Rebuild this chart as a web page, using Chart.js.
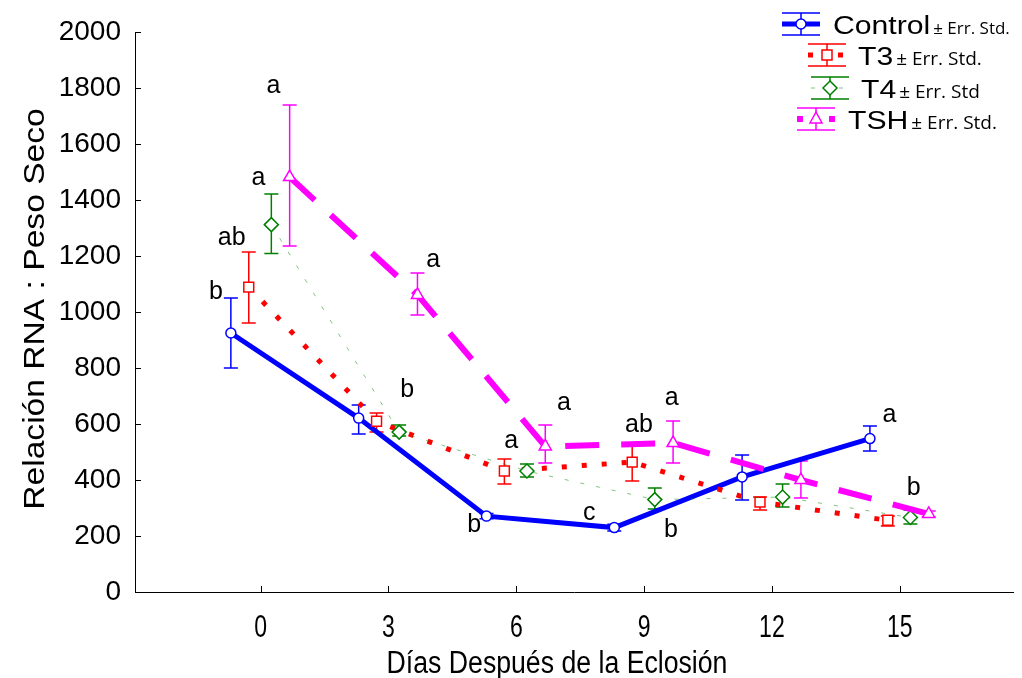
<!DOCTYPE html>
<html>
<head>
<meta charset="utf-8">
<script src="https://cdn.jsdelivr.net/npm/chart.js@4/dist/chart.umd.min.js"></script>
<style>
  body { margin: 0; background: #fff; }
  #wrap { width: 1022px; height: 678px; }
</style>
</head>
<body>
<div id="wrap"><canvas id="rna-chart" width="1022" height="678"></canvas></div>
<script>
/* Data */
let days = [0, 3, 6, 9, 12, 15]

let controlMean = [925, 621, 271, 230, 411, 548]
let controlLow  = [800, 564, 262, 218, 329, 504]
let controlHigh = [1050, 668, 280, 242, 489, 593]

let t3Mean = [1089, 610, 432, 464, 321, 256]
let t3Low  = [961, 571, 386, 396, 293, 236]
let t3High = [1214, 639, 475, 532, 339, 271]

let t4Mean = [1312, 571, 432, 330, 339, 266]
let t4Low  = [1209, 557, 411, 296, 304, 243]
let t4High = [1421, 596, 457, 371, 386, 293]

let tshMean = [1482, 1061, 520, 532, 400, 279]
let tshLow  = [1236, 989, 461, 461, 336, 269]
let tshHigh = [1739, 1139, 596, 611, 468, 289]

// significance letters (text, day position, value position)
let letterText = ['a', 'a', 'ab', 'b', 'a', 'b', 'a', 'a', 'b', 'c', 'ab', 'a', 'b', 'a', 'b']
let letterDay  = [0.3, -0.05, -0.68, -1.05, 4.05, 3.44, 7.12, 5.88, 5.01, 7.71, 8.88, 9.65, 9.63, 14.76, 15.33]
let letterVal  = [1807, 1479, 1264, 1071, 1186, 721, 675, 539, 239, 282, 596, 693, 221, 632, 371]

let seriesNames = ['Control', 'T3', 'T4', 'TSH']
let seriesSuffix = ['\u00b1 Err. Std.', '\u00b1 Err. Std.', '\u00b1 Err. Std', '\u00b1 Err. Std.']

let xTitle = 'Días Después de la Eclosión'
let yTitle = 'Relación RNA : Peso Seco'

// small sideways shift of each group so error bars don't overlap
let dodge = [-0.7, -0.28, 0.25, 0.68]

function makePoints(mean, shift) {
    return days.map(function(d, i) { return { x: d + shift, y: mean[i] } })
}

let styles = [
    { color: '#0000ff', width: 5, dash: [], point: 'circle', radius: 5 },
    { color: '#ff0000', width: 5, dash: [5, 15], point: 'rect', radius: 7 },
    { color: 'rgba(0,140,0,0.5)', width: 1, dash: [4, 12], point: 'rectRot', radius: 7, markColor: '#008000' },
    { color: '#ff00ff', width: 6, dash: [34, 22], point: 'triangle', radius: 7 }
]

let means = [controlMean, t3Mean, t4Mean, tshMean]
let lows = [controlLow, t3Low, t4Low, tshLow]
let highs = [controlHigh, t3High, t4High, tshHigh]

let datasets = means.map(function(m, k) {
    let s = styles[k]
    return {
        label: seriesNames[k],
        data: makePoints(m, dodge[k]),
        showLine: true,
        borderColor: s.color,
        borderWidth: s.width,
        borderDash: s.dash,
        pointStyle: s.point,
        pointRadius: s.radius,
        pointBorderColor: s.markColor || s.color,
        pointBackgroundColor: '#fff',
        pointBorderWidth: 1.5,
        tension: 0
    }
})

// text squeezed or stretched along its own direction, like the original export
function stretchedText(ctx, text, x, y, font, sx, align) {
    ctx.save()
    ctx.translate(x, y)
    ctx.scale(sx, 1)
    ctx.font = font
    ctx.textAlign = align || 'center'
    ctx.fillText(text, 0, 0)
    ctx.restore()
}

let extras = {
    id: 'extras',
    beforeDatasetsDraw: function(chart) {
        // error bars through the chart's scales
        let ctx = chart.ctx
        let xs = chart.scales.x, ys = chart.scales.y
        ctx.save()
        ctx.lineWidth = 1.5
        ctx.setLineDash([])
        for (let k = 0; k < 4; k++) {
            ctx.strokeStyle = styles[k].markColor || styles[k].color
            for (let i = 0; i < days.length; i++) {
                let px = xs.getPixelForValue(days[i] + dodge[k])
                let lo = ys.getPixelForValue(lows[k][i])
                let hi = ys.getPixelForValue(highs[k][i])
                ctx.beginPath()
                ctx.moveTo(px, lo); ctx.lineTo(px, hi)
                ctx.moveTo(px - 7, lo); ctx.lineTo(px + 7, lo)
                ctx.moveTo(px - 7, hi); ctx.lineTo(px + 7, hi)
                ctx.stroke()
            }
        }
        ctx.restore()
    },
    afterDraw: function(chart) {
        let ctx = chart.ctx
        let xs = chart.scales.x, ys = chart.scales.y
        let area = chart.chartArea
        ctx.save()
        // inward tick marks
        ctx.strokeStyle = '#000'
        ctx.lineWidth = 1
        ctx.setLineDash([])
        ctx.beginPath()
        xs.ticks.forEach(function(t) {
            let px = Math.round(xs.getPixelForValue(t.value)) + 0.5
            ctx.moveTo(px, area.bottom); ctx.lineTo(px, area.bottom - 6)
        })
        ys.ticks.forEach(function(t) {
            let py = Math.round(ys.getPixelForValue(t.value)) + 0.5
            ctx.moveTo(area.left, py); ctx.lineTo(area.left + 6, py)
        })
        ctx.stroke()

        ctx.fillStyle = '#000'
        ctx.textBaseline = 'alphabetic'
        // x tick labels, narrow face
        xs.ticks.forEach(function(t) {
            stretchedText(ctx, String(t.value), xs.getPixelForValue(t.value), area.bottom + 45,
                '32px "Liberation Sans", Arial, sans-serif', 0.72)
        })
        // axis titles
        stretchedText(ctx, xTitle, 557, 673, '31px "Liberation Sans", Arial, sans-serif', 0.86)
        ctx.save()
        ctx.translate(44, 309)
        ctx.rotate(-Math.PI / 2)
        stretchedText(ctx, yTitle, 0, 0, '30px "Liberation Sans", Arial, sans-serif', 1.12)
        ctx.restore()

        // letters
        ctx.font = '25px "Liberation Sans", Arial, sans-serif'
        ctx.textAlign = 'center'
        ctx.textBaseline = 'middle'
        for (let i = 0; i < letterText.length; i++) {
            ctx.fillText(letterText[i], xs.getPixelForValue(letterDay[i]), ys.getPixelForValue(letterVal[i]))
        }

        // legend
        let symLeft = [782, 808, 811, 797]
        let textLeft = [833, 858, 861, 848]
        let rowY = [24, 55, 88, 119]
        let suffixSize = [17, 19, 19, 19]
        for (let k = 0; k < 4; k++) {
            let s = styles[k]
            let x0 = symLeft[k], x1 = x0 + 38, cx = (x0 + x1) / 2, y = rowY[k]
            let mc = s.markColor || s.color
            ctx.strokeStyle = s.color
            ctx.lineWidth = s.width
            ctx.setLineDash(s.dash.length ? [Math.min(s.dash[0], 6), 10] : [])
            ctx.beginPath(); ctx.moveTo(x0, y); ctx.lineTo(x1, y); ctx.stroke()
            ctx.setLineDash([])
            ctx.strokeStyle = mc
            ctx.lineWidth = 1.5
            ctx.beginPath()
            ctx.moveTo(cx, y - 11); ctx.lineTo(cx, y + 11)
            ctx.moveTo(x0, y - 11); ctx.lineTo(x1, y - 11)
            ctx.moveTo(x0, y + 11); ctx.lineTo(x1, y + 11)
            ctx.stroke()
            ctx.fillStyle = '#fff'
            ctx.beginPath()
            if (s.point === 'circle') {
                ctx.arc(cx, y, 5, 0, Math.PI * 2)
            } else if (s.point === 'rect') {
                ctx.rect(cx - 5, y - 5, 10, 10)
            } else if (s.point === 'rectRot') {
                ctx.moveTo(cx, y - 7); ctx.lineTo(cx + 7, y); ctx.lineTo(cx, y + 7); ctx.lineTo(cx - 7, y); ctx.closePath()
            } else {
                ctx.moveTo(cx, y - 7); ctx.lineTo(cx + 6, y + 4); ctx.lineTo(cx - 6, y + 4); ctx.closePath()
            }
            ctx.fill(); ctx.stroke()

            ctx.fillStyle = '#000'
            ctx.textBaseline = 'alphabetic'
            let mainFont = '26px "Liberation Sans", Arial, sans-serif'
            ctx.font = mainFont
            let w = ctx.measureText(seriesNames[k]).width * 1.16
            stretchedText(ctx, seriesNames[k], textLeft[k], y + 10, mainFont, 1.16, 'left')
            ctx.font = suffixSize[k] + 'px "Open Sans", "Noto Sans", sans-serif'
            ctx.textAlign = 'left'
            ctx.fillText(seriesSuffix[k], textLeft[k] + w + 3, y + 10)
        }
        ctx.restore()
    }
}

let ctx = document.querySelector('#rna-chart').getContext('2d')

let rnaChart = new Chart(ctx, {
    type: 'scatter',
    data: { datasets: datasets.slice().reverse() },
    options: {
        responsive: false,
        animation: false,
        devicePixelRatio: 1,
        layout: { padding: { top: 32, right: 0, left: 0, bottom: 0 } },
        plugins: { legend: { display: false }, tooltip: { enabled: false } },
        scales: {
            x: {
                type: 'linear',
                min: -2.95,
                max: 17.67,
                afterBuildTicks: function(scale) {
                    scale.ticks = days.map(function(d) { return { value: d } })
                },
                afterFit: function(scale) {
                    scale.height = 86
                    scale.paddingLeft = 0
                    scale.paddingRight = 0
                },
                grid: { display: false, drawTicks: false },
                border: { display: true, color: '#000', width: 1 },
                ticks: { display: false },
                title: { display: false }
            },
            y: {
                min: 0,
                max: 2000,
                afterFit: function(scale) { scale.width = 135 },
                grid: { display: false, drawTicks: false },
                border: { display: true, color: '#000', width: 1 },
                ticks: {
                    stepSize: 200,
                    color: '#000',
                    padding: 14,
                    font: { family: '"Liberation Sans", Arial', size: 28 },
                    callback: function(v) { return String(v) }
                },
                title: { display: false }
            }
        }
    },
    plugins: [extras]
})
</script>
</body>
</html>
